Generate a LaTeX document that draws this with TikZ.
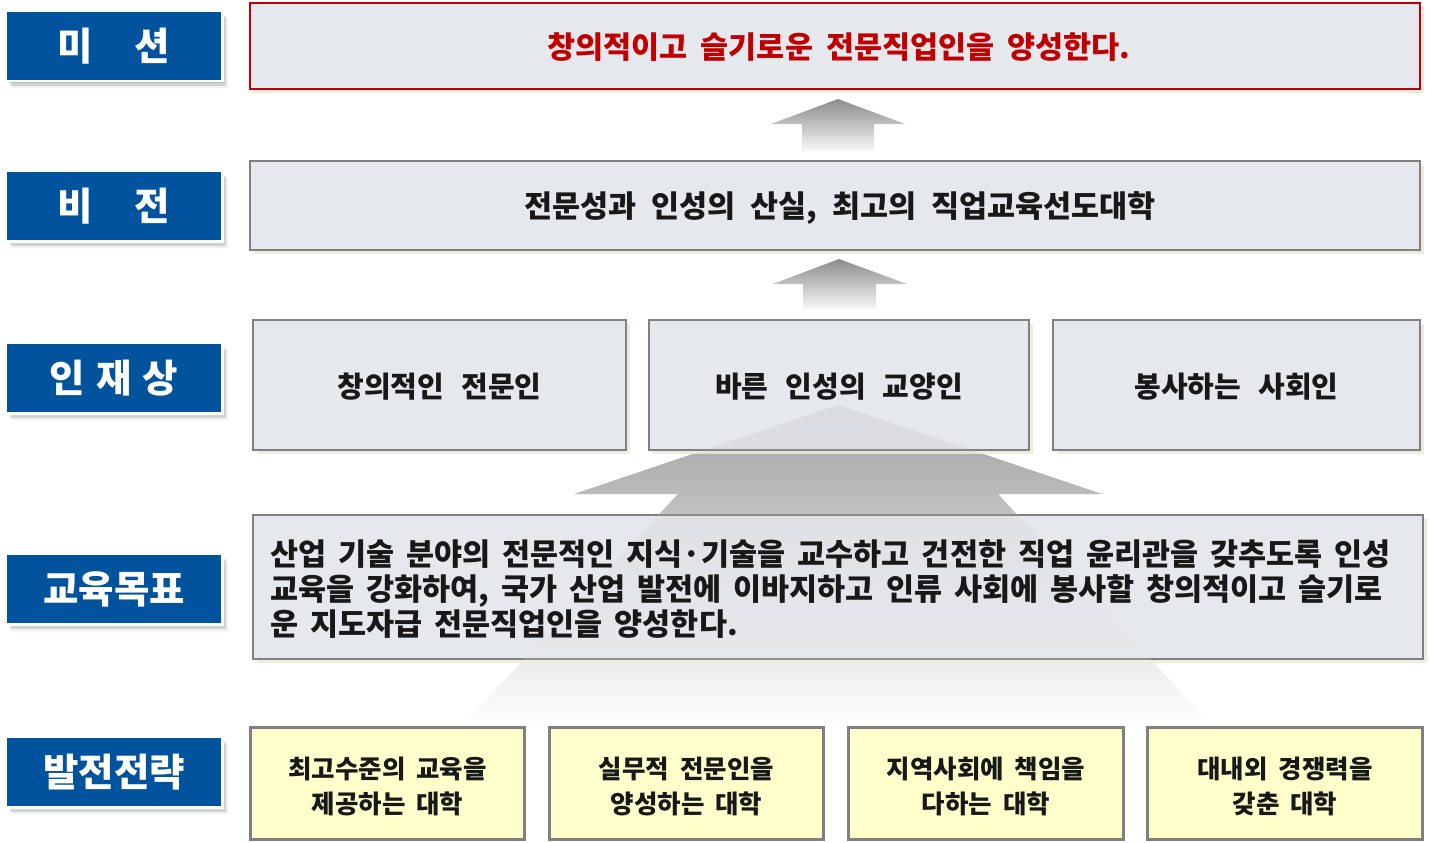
\documentclass[tikz,border=0pt]{standalone}
\usepackage{fontspec}
\setmainfont{Noto Sans CJK KR}
\usetikzlibrary{shadows}
\definecolor{lblue}{RGB}{0,83,156}
\definecolor{boxfill}{RGB}{229,232,237}
\definecolor{boxline}{RGB}{128,128,128}
\definecolor{shbeige}{RGB}{238,236,222}
\definecolor{yfill}{RGB}{255,255,204}
\definecolor{mred}{RGB}{192,0,0}
\definecolor{txt}{RGB}{24,24,24}
\newcommand\wsp[1]{\spaceskip=#1\relax}
\begin{document}
\begin{tikzpicture}[x=1pt,y=-1pt,
  lbl/.style={fill=lblue, draw=white, line width=2.5pt, text=white,
    font=\bfseries\fontsize{38.5}{42}\selectfont, minimum width=216.5pt,
    minimum height=70.5pt, inner sep=0pt,
    drop shadow={shadow xshift=2pt, shadow yshift=-2pt, fill=black, opacity=0.12},
    drop shadow={shadow xshift=4pt, shadow yshift=-5pt, fill=black, opacity=0.12},
    drop shadow={shadow xshift=6pt, shadow yshift=-7pt, fill=black, opacity=0.06}},
  gbox/.style={draw=boxline, line width=2pt, fill=boxfill, inner sep=0pt,
    drop shadow={shadow xshift=4pt, shadow yshift=-4pt, fill=shbeige, opacity=1}},
  ybox/.style={draw=boxline, line width=2.5pt, fill=yfill, inner sep=0pt,
    minimum width=274pt, minimum height=112pt},
  bigtxt/.style={text=txt, inner sep=0pt, font=\bfseries\fontsize{30.5}{35}\selectfont\wsp{13pt}},
  midtxt/.style={text=txt, inner sep=0pt, font=\bfseries\fontsize{29}{34}\selectfont\wsp{17pt}},
  ytxt/.style={text=txt, inner sep=0pt, align=center, font=\bfseries\fontsize{25.5}{35}\selectfont\wsp{11pt}},
  smallarrow/.style={top color=black!45, bottom color=black!3},
  bigarrowshade/.style={top color=black!37, bottom color=white}
]
\useasboundingbox (0,0) rectangle (1430,843);
\fill[white] (0,0) rectangle (1430,843);

% big background arrow
\shade[bigarrowshade] (838,405) -- (1102,494) -- (998,494) -- (1212,726) -- (462,726) -- (678,494) -- (574,494) -- cycle;

% small arrows
\shade[smallarrow] (838,99) -- (905,124) -- (874,124) -- (874,151) -- (802,151) -- (802,124) -- (771,124) -- cycle;
\shade[smallarrow] (839,259) -- (907,284) -- (876,284) -- (876,309) -- (803,309) -- (803,284) -- (773,284) -- cycle;

% boxes
\node[gbox, draw=mred, minimum width=1170pt, minimum height=86pt] (mission) at (835,46) {};
\node[gbox, minimum width=1170pt, minimum height=89pt] (vision) at (835,205.5) {};
\node[gbox, minimum width=373pt, minimum height=130pt] (p1) at (439.5,385) {};
\node[gbox, minimum width=380pt, minimum height=130pt] (p2) at (839,385) {};
\node[gbox, minimum width=367pt, minimum height=130pt] (p3) at (1236.5,385) {};
\node[gbox, minimum width=1170pt, minimum height=144pt] (edu) at (838,587) {};
\node[ybox] (s1) at (387.5,783.5) {};
\node[ybox] (s2) at (686.5,783.5) {};
\node[ybox, minimum width=275pt] (s3) at (986,783.5) {};
\node[ybox, minimum width=275pt] (s4) at (1285,783.5) {};

% arrow seen through the boxes
\shade[bigarrowshade, opacity=0.17] (838,405) -- (1102,494) -- (998,494) -- (1212,726) -- (462,726) -- (678,494) -- (574,494) -- cycle;

% texts
\node[bigtxt, text=mred] (tm) at ([xshift=4pt,yshift=-1pt]mission.center) {창의적이고 슬기로운 전문직업인을 양성한다.};
\node[bigtxt, font=\bfseries\fontsize{30.5}{35}\selectfont\wsp{15pt}] (tv) at ([xshift=5pt,yshift=-3pt]vision.center) {전문성과 인성의 산실, 최고의 직업교육선도대학};
\node[midtxt] (tp1) at ([yshift=-2pt]p1.center) {창의적인 전문인};
\node[midtxt] (tp2) at ([yshift=-2pt]p2.center) {바른 인성의 교양인};
\node[midtxt] (tp3) at ([yshift=-2pt]p3.center) {봉사하는 사회인};
\node[bigtxt, anchor=west, align=left, font=\bfseries\fontsize{30.5}{35}\selectfont\wsp{12pt}] (te) at ([xshift=18pt,yshift=-2pt]edu.west)
  {산업 기술 분야의 전문적인 지식·기술을 교수하고 건전한 직업 윤리관을 갖추도록 인성\\
   교육을 강화하여, 국가 산업 발전에 이바지하고 인류 사회에 봉사할 창의적이고 슬기로\\
   운 지도자급 전문직업인을 양성한다.};
\node[ytxt] (ts1) at ([yshift=-3pt]s1.center) {최고수준의 교육을\\제공하는 대학};
\node[ytxt] (ts2) at ([yshift=-3pt]s2.center) {실무적 전문인을\\양성하는 대학};
\node[ytxt] (ts3) at ([yshift=-3pt]s3.center) {지역사회에 책임을\\다하는 대학};
\node[ytxt] (ts4) at ([yshift=-3pt]s4.center) {대내외 경쟁력을\\갖춘 대학};

% left labels
\node[lbl] (l1) at (114,46) {미\hspace{42pt}션};
\node[lbl] (l2) at (114,206) {비\hspace{42pt}전};
\node[lbl] (l3) at (114,378) {인\hspace{11pt}재\hspace{11pt}상};
\node[lbl] (l4) at (114,589) {교육목표};
\node[lbl] (l5) at (114,772) {발전전략};
\end{tikzpicture}
\end{document}
